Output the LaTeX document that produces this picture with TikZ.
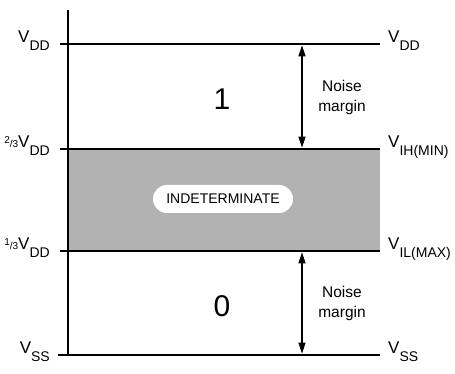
\documentclass[tikz,border=0pt]{standalone}
\usepackage{fontspec}
\setmainfont{Liberation Sans}
\usepackage{tikz}
\usetikzlibrary{positioning,arrows.meta}
\definecolor{bandgray}{HTML}{B2B2B2}

\newcommand{\volt}[1]{V\raisebox{-0.42em}{\fontsize{14}{14}\selectfont #1}}
\newcommand{\frc}[2]{{\fontsize{10}{10}\selectfont\raisebox{0.42em}{#1}/#2}}

\begin{document}
\begin{tikzpicture}[x=1pt, y=1pt,
    lvl/.style={line width=2.6pt},
    lbl/.style={font=\fontsize{17}{17}\selectfont, inner sep=0pt},
    note/.style={font=\fontsize{15.5}{20}\selectfont, align=center},
    dimarrow/.style={line width=1.2pt, {Triangle[length=11pt,width=7pt]}-{Triangle[length=11pt,width=7pt]}}]
    \useasboundingbox (0,0) rectangle (455,374);

    % indeterminate band
    \fill[bandgray] (68,123) rectangle (380,225);

    % levels
    \draw[lvl] (60,330) -- (380,330);
    \draw[lvl] (60,225) -- (380,225);
    \draw[lvl] (60,123) -- (380,123);
    \draw[lvl] (58,19) -- (380,19);
    \draw[line width=2pt] (68,364) -- (68,18);

    % left labels
    \node[lbl, anchor=base east] (vddl) at (50,331) {\volt{DD}};
    \node[lbl, anchor=base east] (hil) at (50,226) {\frc{2}{3}\volt{DD}};
    \node[lbl, anchor=base east] (lol) at (50,124) {\frc{1}{3}\volt{DD}};
    \node[lbl, anchor=base east] (vssl) at (50,20) {\volt{SS}};

    % right labels
    \node[lbl, anchor=base west] (vddr) at (388,331) {\volt{DD}};
    \node[lbl, anchor=base west] (vihr) at (388,226) {\volt{IH(MIN)}};
    \node[lbl, anchor=base west] (vilr) at (388,124) {\volt{IL(MAX)}};
    \node[lbl, anchor=base west] (vssr) at (388,20) {\volt{SS}};

    % noise margins
    \coordinate (mtop) at (302,328.6);
    \coordinate (mhi) at (302,226.4);
    \coordinate (mlo) at (302,121.6);
    \coordinate (mbot) at (302,20.4);
    \draw[dimarrow] (mtop) -- (mhi);
    \draw[dimarrow] (mlo) -- (mbot);
    \node[note] (nmhi) at (342,277) {Noise\\margin};
    \node[note] (nmlo) at (342,71) {Noise\\margin};

    % logic levels
    \node[font=\fontsize{30}{30}\selectfont] (one) at (222,275) {1};
    \node[font=\fontsize{30}{30}\selectfont] (zero) at (222,68) {0};
    \node[fill=white, rounded corners=14pt, minimum width=140pt, minimum height=28pt,
          font=\fontsize{14}{14}\selectfont] (indet) at (223,175) {INDETERMINATE};
\end{tikzpicture}
\end{document}
